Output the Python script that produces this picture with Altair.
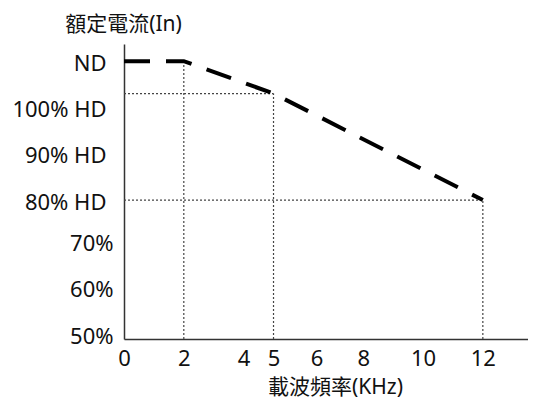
import altair as alt
import pandas as pd
import json

# data
freq = [0, 2, 5, 12]
current = [110, 110, 103, 80]
y_ticks = [50, 60, 70, 80, 90, 100, 110]
y_labels = ["50%", "60%", "70%", "80% HD", "90% HD", "100% HD", "ND"]
x_ticks = [0, 2, 4, 5, 6, 8, 10, 12]
# reference (dotted) guides
v_x = [2, 5, 12]
v_top = [110, 103, 80]
h_y = [103, 80]
h_end = [5, 12]

FONT = "Noto Sans, Noto Sans CJK TC"
FS = 22
Y_MIN, Y_MAX = 50, 113.7
X_MAX = 13.51

line_df = pd.DataFrame({"f": freq, "c": current})
v_df = pd.DataFrame({"x": v_x, "y1": [Y_MIN] * len(v_x), "y2": v_top})
h_df = pd.DataFrame({"x1": [0] * len(h_y), "x2": h_end, "y": h_y})

xscale = alt.Scale(domain=[0, X_MAX], nice=False, zero=False)
yscale = alt.Scale(domain=[Y_MIN, Y_MAX], nice=False, zero=False)

label_expr = json.dumps(y_labels) + "[round((datum.value-50)/10)]"

line = alt.Chart(line_df).mark_line(
    color="black", strokeWidth=4, strokeDash=[26, 16]
).encode(
    x=alt.X("f:Q", scale=xscale, axis=alt.Axis(
        values=x_ticks, title="載波頻率(KHz)", grid=False, ticks=False,
        labelFontSize=FS, titleFontSize=FS - 1, labelFont=FONT, titleFont=FONT,
        labelColor="#111", titleColor="#111", labelPadding=9,
        labelOffset={"condition": {"test": "datum.value == 6", "value": 13}, "value": 0},
        titleFontWeight="normal", titleX=211, titleY=54, titleAlign="center",
        titleBaseline="alphabetic",
        domainColor="#333", domainWidth=1.5, labelFlush=False)),
    y=alt.Y("c:Q", scale=yscale, axis=alt.Axis(
        values=y_ticks, labelExpr=label_expr, title="額定電流(In)",
        grid=False, ticks=False, labelFontSize=FS, titleFontSize=FS - 1,
        labelFont=FONT, titleFont=FONT, labelColor="#111", titleColor="#111",
        labelPadding={"condition": {"test": "datum.value >= 80", "value": 18}, "value": 11},
        labelOffset={"condition": {"test": "datum.value <= 70", "value": -3}, "value": 2},
        titleAngle=0, titleX=-1, titleY=-14, titleBaseline="alphabetic",
        titleAlign="center", titleFontWeight="normal",
        domainColor="#333", domainWidth=1.5)),
)

vrule = alt.Chart(v_df).mark_rule(color="#444", strokeWidth=1.2, strokeDash=[2, 2]).encode(
    x=alt.X("x:Q", scale=xscale), y=alt.Y("y1:Q", scale=yscale), y2="y2:Q"
)
hrule = alt.Chart(h_df).mark_rule(color="#444", strokeWidth=1.2, strokeDash=[2, 2]).encode(
    x=alt.X("x1:Q", scale=xscale), x2="x2:Q", y=alt.Y("y:Q", scale=yscale)
)

chart = alt.layer(vrule, hrule, line).properties(
    width=404, height=295,
    autosize=alt.AutoSizeParams(type="none"),
    padding={"left": 116, "top": 36, "right": 0, "bottom": 61},
).configure_view(stroke=None)

chart.save("out.html", embed_options={"renderer": "svg", "actions": False})
